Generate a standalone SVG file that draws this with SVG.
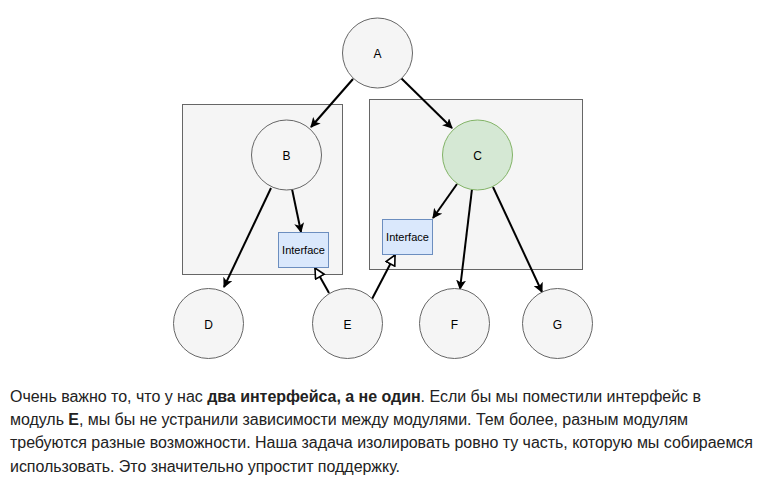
<svg xmlns="http://www.w3.org/2000/svg" width="763" height="490" viewBox="0 0 763 490">
  <style>
    .module { fill: #f5f5f5; stroke: #666666; stroke-width: 1; }
    .node { fill: #f5f5f5; stroke: #666666; stroke-width: 1; }
    .node-green { fill: #d5e8d4; stroke: #82b366; stroke-width: 1; }
    .iface { fill: #dae8fc; stroke: #6c8ebf; stroke-width: 1; }
    .label { font-family: "Liberation Sans", Arial, sans-serif; font-size: 12px; fill: #000000; text-anchor: middle; dominant-baseline: central; }
    .iface-label { font-family: "Liberation Sans", Arial, sans-serif; font-size: 11px; fill: #000000; text-anchor: middle; dominant-baseline: central; }
    .edge { fill: none; stroke: #000000; stroke-width: 2; }
    .para { font-family: "Liberation Sans", Arial, sans-serif; font-size: 16px; fill: #222222; }
    .bold { font-weight: bold; }
  </style>
  <defs>
    <marker id="arrow" viewBox="0 0 10 10" refX="9" refY="5" markerWidth="5" markerHeight="5" orient="auto" markerUnits="strokeWidth">
      <path d="M0,0 L10,5 L0,10 L2.5,5 Z" fill="#000000"/>
    </marker>
    <marker id="hollow" viewBox="0 0 12 12" refX="11" refY="6" markerWidth="6" markerHeight="6" orient="auto" markerUnits="strokeWidth">
      <path d="M1,1 L11,6 L1,11 Z" fill="#ffffff" stroke="#000000" stroke-width="1.6"/>
    </marker>
  </defs>

  <!-- module containers -->
  <g id="module-b">
    <rect class="module" x="182.5" y="104.5" width="160" height="170"/>
  </g>
  <g id="module-c">
    <rect class="module" x="369.5" y="99.5" width="213" height="170"/>
  </g>

  <!-- dependencies -->
  <g id="connectors">
    <line class="edge" x1="353" y1="79" x2="311" y2="127" marker-end="url(#arrow)"/>
    <line class="edge" x1="401" y1="78" x2="452" y2="128" marker-end="url(#arrow)"/>
    <line class="edge" x1="271" y1="188" x2="224" y2="287" marker-end="url(#arrow)"/>
    <line class="edge" x1="292" y1="189" x2="301" y2="232" marker-end="url(#arrow)"/>
    <line class="edge" x1="457" y1="184" x2="433" y2="218" marker-end="url(#arrow)"/>
    <line class="edge" x1="472" y1="189" x2="460" y2="289" marker-end="url(#arrow)"/>
    <line class="edge" x1="493" y1="187" x2="542" y2="292" marker-end="url(#arrow)"/>
    <line class="edge" x1="329" y1="293" x2="315" y2="268" marker-end="url(#hollow)"/>
    <line class="edge" x1="372" y1="299" x2="395" y2="255" marker-end="url(#hollow)"/>
  </g>

  <g id="node-a">
    <circle class="node" cx="377.5" cy="53" r="35"/>
    <text class="label" x="377.5" y="54">A</text>
  </g>
  <g id="node-b">
    <circle class="node" cx="286.5" cy="155" r="35"/>
    <text class="label" x="286.5" y="156">B</text>
  </g>
  <g id="node-c">
    <circle class="node-green" cx="477.5" cy="155" r="35"/>
    <text class="label" x="477.5" y="156">C</text>
  </g>
  <g id="iface-b">
    <rect class="iface" x="278.5" y="232.5" width="50" height="35"/>
    <text class="iface-label" x="303.5" y="250">Interface</text>
  </g>
  <g id="iface-c">
    <rect class="iface" x="382.5" y="219.5" width="50" height="35"/>
    <text class="iface-label" x="407.5" y="237">Interface</text>
  </g>
  <g id="node-d">
    <circle class="node" cx="208.5" cy="323.5" r="35"/>
    <text class="label" x="208.5" y="324.5">D</text>
  </g>
  <g id="node-e">
    <circle class="node" cx="347.5" cy="323.5" r="35"/>
    <text class="label" x="347.5" y="324.5">E</text>
  </g>
  <g id="node-f">
    <circle class="node" cx="454.5" cy="323.5" r="35"/>
    <text class="label" x="454.5" y="324.5">F</text>
  </g>
  <g id="node-g">
    <circle class="node" cx="557.5" cy="323.5" r="35"/>
    <text class="label" x="557.5" y="324.5">G</text>
  </g>

  <!-- caption paragraph -->
  <text class="para" x="10" y="402" textLength="691" lengthAdjust="spacing">Очень важно то, что у нас <tspan class="bold">два интерфейса, а не один</tspan>. Если бы мы поместили интерфейс в</text>
  <text class="para" x="10" y="425" textLength="678" lengthAdjust="spacing">модуль <tspan class="bold">E</tspan>, мы бы не устранили зависимости между модулями. Тем более, разным модулям</text>
  <text class="para" x="10" y="448" textLength="743" lengthAdjust="spacing">требуются разные возможности. Наша задача изолировать ровно ту часть, которую мы собираемся</text>
  <text class="para" x="10" y="472" textLength="390" lengthAdjust="spacing">использовать. Это значительно упростит поддержку.</text>
</svg>
